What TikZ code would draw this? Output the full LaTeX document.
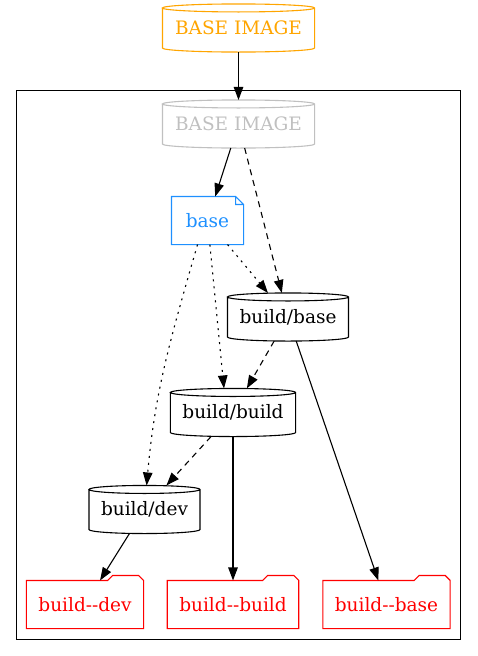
\documentclass[tikz,border=0pt]{standalone}
\usepackage{fontspec}
\setmainfont{DejaVu Serif}
\usepackage{tikz}
\usetikzlibrary{
  arrows.meta,
  calc,
  positioning
}

\definecolor{imgorange}{HTML}{FFA500}
\definecolor{imggray}{HTML}{C0C0C0}
\definecolor{noteblue}{HTML}{1E90FF}
\definecolor{tagred}{HTML}{FF0000}

\tikzset{
  every node/.style={font=\fontsize{18.5}{22}\selectfont, inner xsep=11.5pt, minimum height=47pt},
  store/.style={text=#1, append after command={\pgfextra{\let\lastone\tikzlastnode
    \draw[#1] let \p1=(\lastone.north west), \p2=(\lastone.south east) in
      (\x1,\y1-4pt) -- (\x1,\y2+4pt)
      arc[start angle=180, end angle=360, x radius={(\x2-\x1)/2}, y radius=4pt]
      -- (\x2,\y1-4pt)
      arc[start angle=0, end angle=180, x radius={(\x2-\x1)/2}, y radius=4pt]
      arc[start angle=180, end angle=360, x radius={(\x2-\x1)/2}, y radius=4pt];}}},
  note/.style={text=#1, minimum width=71pt, append after command={\pgfextra{\let\lastone\tikzlastnode
    \draw[#1] (\lastone.north west) -- ([xshift=-8pt]\lastone.north east)
      -- ([yshift=-8pt]\lastone.north east) -- (\lastone.south east)
      -- (\lastone.south west) -- cycle
      ([xshift=-8pt]\lastone.north east) |- ([yshift=-8pt]\lastone.north east);}}},
  folder/.style={text=#1, append after command={\pgfextra{\let\lastone\tikzlastnode
    \draw[#1] (\lastone.south west) -- (\lastone.north west)
      -- ([xshift=-36pt]\lastone.north east) -- ([shift={(-31pt,5pt)}]\lastone.north east)
      -- ([shift={(-5pt,5pt)}]\lastone.north east) -- (\lastone.north east)
      -- (\lastone.south east) -- cycle;}}},
  dashedge/.style={dash pattern=on 6pt off 5pt},
  dotedge/.style={dash pattern=on 2pt off 5pt}
}

\begin{document}
\begin{tikzpicture}[x=1pt, y=1pt, line width=1.1pt, >={Triangle[length=13pt,width=9.5pt]}]
\useasboundingbox (0,0) rectangle (477,-656);

% cluster
\draw[line width=1pt] (16,-90) rectangle (460,-639);

\node[store=imgorange, minimum width=151pt] (top) at (238.5,-28) {BASE IMAGE};
\node[store=imggray, minimum width=151pt] (inner) at (238.5,-124) {BASE IMAGE};
\node[note=noteblue] (base) at (207.5,-220.5) {base};
\node[store=black] (bbase) at (288,-317) {build/base};
\node[store=black] (bbuild) at (233,-412.5) {build/build};
\node[store=black] (bdev) at (144.5,-509.5) {build/dev};
\node[folder=tagred] (fdev) at (85,-604.5) {build-{}-dev};
\node[folder=tagred] (fbuild) at (233,-604.5) {build-{}-build};
\node[folder=tagred] (fbase) at (386.5,-604.5) {build-{}-base};

\draw[->] (top) -- (inner);
\draw[->] (inner) -- (base);
\draw[->, dashedge] (inner) -- (bbase);
\draw[->, dotedge] (base) -- (bbase);
\draw[->, dotedge] (base) -- ([xshift=-9pt]bbuild.north);
\draw[->, dotedge] ([xshift=-10pt]base.south) .. controls (171,-337) and (155,-390) .. (bdev);
\draw[->, dashedge] (bbase) -- (bbuild);
\draw[->] (bbase) -- (fbase);
\draw[->, dashedge] (bbuild) -- (bdev);
\draw[->] (bbuild) -- (fbuild);
\draw[->] (bdev) -- (fdev);
\end{tikzpicture}
\end{document}
